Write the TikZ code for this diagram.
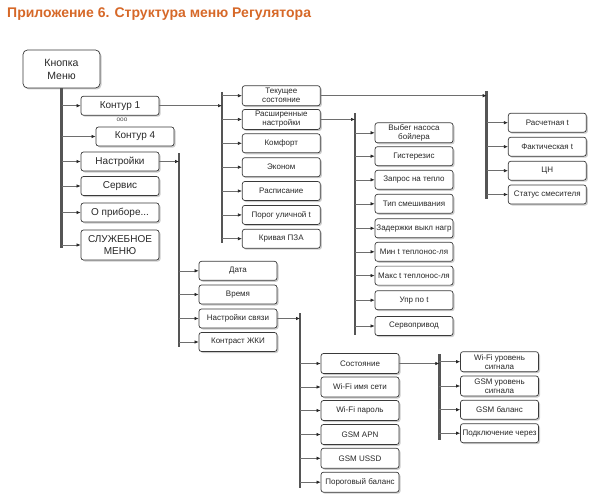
\documentclass[tikz,border=0pt]{standalone}
\usepackage{fontspec}
\setmainfont{Liberation Sans}
\usetikzlibrary{arrows.meta,shadows}
\definecolor{titlec}{RGB}{214,104,40}
\definecolor{boxc}{RGB}{58,58,58}
\definecolor{txtc}{RGB}{40,40,40}
\definecolor{barc}{RGB}{85,85,85}
\definecolor{linec}{RGB}{110,110,110}
\tikzset{
  box/.style={draw=boxc, line width=0.7pt, fill=white, rounded corners=2.5pt,
    inner sep=0pt, align=center, text=txtc, font=\fontsize{8}{9}\selectfont,
    drop shadow={shadow xshift=1.5pt, shadow yshift=-1.5pt, fill=black!40, opacity=0.5}},
  sbox/.style={box, minimum width=78pt, minimum height=19pt},
  tbox/.style={box, minimum width=78pt, minimum height=20pt},
  bbox/.style={box, minimum width=78pt, minimum height=19pt, font=\fontsize{10}{12}\selectfont},
  bar/.style={line width=2.6pt, draw=barc},
  conn/.style={draw=linec, line width=0.6pt, -{Latex[length=4pt,width=3.4pt,color=black!85]}},
}
\begin{document}
\begin{tikzpicture}[x=1pt,y=-1pt]
\useasboundingbox (0,0) rectangle (600,503);
% title
\node[anchor=base west, inner sep=0pt, text=titlec, font=\fontsize{14}{16}\bfseries\selectfont] (title) at (7,17.5) {Приложение 6. Структура меню Регулятора};
% root and level 1
\node[box, minimum width=77pt, minimum height=38pt, rounded corners=4.5pt, font=\fontsize{10.5}{13}\selectfont] (root) at (61.5,69) {Кнопка\\Меню};
\node[bbox] (k1) at (120,105.7) {Контур 1};
\node[inner sep=0pt, font=\fontsize{6.5}{7}\selectfont, text=black!70] (dots) at (122,120) {ооо};
\node[bbox] (k4) at (135,136.5) {Контур 4};
\node[bbox] (nast) at (120,161.5) {Настройки};
\node[bbox] (serv) at (120,186) {Сервис};
\node[bbox] (opr) at (120,212.5) {О приборе...};
\node[bbox, minimum height=30pt] (sl) at (120,245) {СЛУЖЕБНОЕ\\МЕНЮ};
\coordinate (M1) at (61.5,248);
\draw[bar] (root.south) -- (M1);
\foreach \n in {k1,k4,nast,serv,opr,sl} \draw[conn] (M1 |- \n.west) -- (\n.west);
% group A
\node[tbox] (a1) at (281.3,95.7) {Текущее\\состояние};
\node[tbox] (a2) at (281.3,119.4) {Расширенные\\настройки};
\node[sbox] (a3) at (281.3,143.3) {Комфорт};
\node[sbox] (a4) at (281.3,167.2) {Эконом};
\node[sbox] (a5) at (281.3,191) {Расписание};
\node[sbox] (a6) at (281.3,214.9) {Порог уличной t};
\node[sbox] (a7) at (281.3,238.7) {Кривая ПЗА};
\coordinate (A0) at (222,92);
\coordinate (A1) at (222,243);
\draw[bar] (A0) -- (A1);
\draw[conn] (k1.east) -- (k1.east -| A0);
\foreach \i in {1,...,7} \draw[conn] (A0 |- a\i.west) -- (a\i.west);
% group C
\node[sbox] (c1) at (547.3,122.7) {Расчетная t};
\node[sbox] (c2) at (547.3,146.7) {Фактическая t};
\node[sbox] (c3) at (547.3,170.7) {ЦН};
\node[sbox] (c4) at (547.3,194.5) {Статус смесителя};
\coordinate (C0) at (486.7,91);
\coordinate (C1) at (486.7,199);
\draw[bar] (C0) -- (C1);
\draw[conn] (a1.east) -- (a1.east -| C0);
\foreach \i in {1,...,4} \draw[conn] (C0 |- c\i.west) -- (c\i.west);
% group B
\node[tbox] (b1) at (414,132.8) {Выбег насоса\\бойлера};
\node[sbox] (b2) at (414,156.2) {Гистерезис};
\node[sbox] (b3) at (414,179.8) {Запрос на тепло};
\node[sbox] (b4) at (414,203.8) {Тип смешивания};
\node[sbox] (b5) at (414,228.3) {Задержки выкл нагр};
\node[sbox] (b6) at (414,251.8) {Мин t теплонос-ля};
\node[sbox] (b7) at (414,275.6) {Макс t теплонос-ля};
\node[sbox] (b8) at (414,300.2) {Упр по t};
\node[sbox] (b9) at (414,326) {Сервопривод};
\coordinate (B0) at (355,113.3);
\coordinate (B1) at (355,335);
\draw[bar] (B0) -- (B1);
\draw[conn] (a2.east) -- (a2.east -| B0);
\foreach \i in {1,...,9} \draw[conn] (B0 |- b\i.west) -- (b\i.west);
% group D
\node[sbox] (d1) at (238,270.8) {Дата};
\node[sbox] (d2) at (238,294.5) {Время};
\node[sbox] (d3) at (238,318.5) {Настройки связи};
\node[sbox] (d4) at (238,342) {Контраст ЖКИ};
\coordinate (D0) at (179,153);
\coordinate (D1) at (179,346.7);
\draw[bar] (D0) -- (D1);
\draw[conn] (nast.east) -- (nast.east -| D0);
\foreach \i in {1,...,4} \draw[conn] (D0 |- d\i.west) -- (d\i.west);
% group E
\node[tbox] (e1) at (360,363.5) {Состояние};
\node[tbox] (e2) at (360,387) {Wi-Fi имя сети};
\node[tbox] (e3) at (360,410.5) {Wi-Fi пароль};
\node[tbox] (e4) at (360,434.5) {GSM APN};
\node[tbox] (e5) at (360,458.3) {GSM USSD};
\node[tbox] (e6) at (360,482.2) {Пороговый баланс};
\coordinate (E0) at (300,313.3);
\coordinate (E1) at (300,488.3);
\draw[bar] (E0) -- (E1);
\draw[conn] (d3.east) -- (d3.east -| E0);
\foreach \i in {1,...,6} \draw[conn] (E0 |- e\i.west) -- (e\i.west);
% group F
\node[tbox] (f1) at (499.5,361.7) {Wi-Fi уровень\\сигнала};
\node[tbox] (f2) at (499.5,386) {GSM уровень\\сигнала};
\node[sbox] (f3) at (499.5,409.7) {GSM баланс};
\node[sbox] (f4) at (499.5,433.2) {Подключение через};
\coordinate (F0) at (439.3,354);
\coordinate (F1) at (439.3,440);
\draw[bar] (F0) -- (F1);
\draw[conn] (e1.east) -- (e1.east -| F0);
\foreach \i in {1,...,4} \draw[conn] (F0 |- f\i.west) -- (f\i.west);
\end{tikzpicture}
\end{document}
